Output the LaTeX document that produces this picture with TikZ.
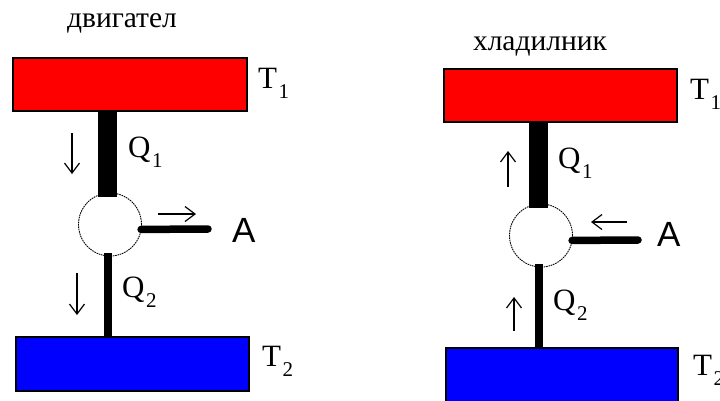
\documentclass[tikz,border=0pt]{standalone}
\usepackage{fontspec}
\setmainfont{Liberation Serif}
\newfontfamily\asans{Liberation Sans}
\usetikzlibrary{arrows.meta}
\newcommand{\lsub}[1]{\kern1.5pt\raisebox{-10.5pt}{\fontsize{21}{21}\selectfont #1}}
\begin{document}
\begin{tikzpicture}[x=1pt,y=-1pt,
 box/.style={draw=black,line width=1.2pt,inner sep=0pt,outer sep=0pt},
 hotbox/.style={box,fill=red},
 coldbox/.style={box,fill=blue},
 engine/.style={circle,draw=black,line width=0.9pt,dash pattern=on 1.6pt off 0.8pt,minimum size=63pt,inner sep=0pt,outer sep=0pt,fill=white},
 widebar/.style={line width=19pt},
 thinbar/.style={line width=8pt},
 workbar/.style={line width=7.5pt,line cap=round},
 flow/.style={line width=1.2pt,-{Straight Barb[length=10pt,width=15pt]}},
 lab/.style={inner sep=0pt,anchor=base west,font=\fontsize{31}{31}\selectfont},
 alab/.style={inner sep=0pt,anchor=base west,font=\asans\fontsize{35}{35}\selectfont},
 ttl/.style={inner sep=0pt,anchor=base,font=\fontsize{29.5}{29.5}\selectfont}]
\useasboundingbox (0,0) rectangle (720,400);

% ---------- left: engine ----------
\node[hotbox,minimum width=234pt,minimum height=53pt] (hot1) at (130,84.5) {};
\node[coldbox,minimum width=233pt,minimum height=54pt] (cold1) at (132.5,364) {};
\node[engine] (eng1) at (110,224.5) {};
\path ([xshift=-2.5pt]eng1.north) coordinate (e1n);
\path ([xshift=-2.5pt]eng1.south) coordinate (e1s);
\coordinate (w1) at (208,229);
\draw[widebar] (e1n |- hot1.south) -- ([yshift=-4pt]e1n);
\draw[thinbar] ([yshift=3pt]e1s) -- (e1s |- cold1.north);
\draw[workbar] (eng1.-9) -- (w1);
\coordinate (f1a) at (72,133); \coordinate (f1b) at (72,174);
\coordinate (f2a) at (77,273); \coordinate (f2b) at (77,315);
\coordinate (f3a) at (158,214); \coordinate (f3b) at (196,214);
\draw[flow] (f1a) -- (f1b);
\draw[flow] (f2a) -- (f2b);
\draw[flow] (f3a) -- (f3b);
\node[ttl] (title1) at (122,27) {двигател};
\node[lab] (t1l) at (258,88) {T\lsub{1}};
\node[lab] (q1l) at (128,157) {Q\lsub{1}};
\node[alab] (a1l) at (232,242) {A};
\node[lab] (q2l) at (122,297) {Q\lsub{2}};
\node[lab] (t2l) at (262,366) {T\lsub{2}};

% ---------- right: refrigerator ----------
\node[hotbox,minimum width=233pt,minimum height=53pt] (hot2) at (560.5,95.5) {};
\node[coldbox,minimum width=232pt,minimum height=54pt] (cold2) at (562,375) {};
\node[engine] (eng2) at (541,235.5) {};
\path ([xshift=-3pt]eng2.north) coordinate (e2n);
\path ([xshift=-2.5pt]eng2.south) coordinate (e2s);
\coordinate (w2) at (638,240);
\draw[widebar] (e2n |- hot2.south) -- ([yshift=-4pt]e2n);
\draw[thinbar] ([yshift=3pt]e2s) -- (e2s |- cold2.north);
\draw[workbar] (eng2.-9) -- (w2);
\coordinate (g1a) at (508,187); \coordinate (g1b) at (508,151);
\coordinate (g2a) at (514,331); \coordinate (g2b) at (514,297);
\coordinate (g3a) at (627,222); \coordinate (g3b) at (591,222);
\draw[flow] (g1a) -- (g1b);
\draw[flow] (g2a) -- (g2b);
\draw[flow] (g3a) -- (g3b);
\node[ttl] (title2) at (540,50) {хладилник};
\node[lab] (t1r) at (690,99) {T\lsub{1}};
\node[lab] (q1r) at (558,168) {Q\lsub{1}};
\node[alab] (a2l) at (657,246) {A};
\node[lab] (q2r) at (553,310) {Q\lsub{2}};
\node[lab] (t2r) at (693,375) {T\lsub{2}};
\end{tikzpicture}
\end{document}
